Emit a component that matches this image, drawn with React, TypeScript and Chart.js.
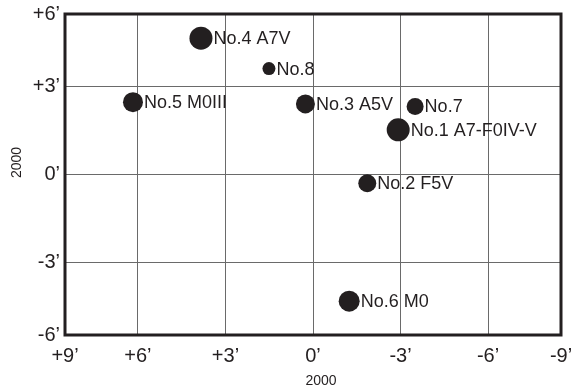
import React, { useEffect, useRef } from "react";
import { Chart, registerables } from "chart.js";

Chart.register(...registerables);

// Star labels and offsets (arc-minutes, epoch 2000)
const STAR_LABELS = [
  "No.1 A7-F0IV-V",
  "No.2 F5V",
  "No.3 A5V",
  "No.4 A7V",
  "No.5 M0III",
  "No.6 M0",
  "No.7",
  "No.8",
];
const X_OFFSETS = [-2.92, -1.86, 0.26, 3.84, 6.17, -1.24, -3.5, 1.51];
const Y_OFFSETS = [1.53, -0.3, 2.42, 4.67, 2.48, -4.34, 2.33, 3.63];
const BUBBLE_SIZES = [11.5, 9, 9.5, 11.5, 10, 10.5, 8.5, 6.5];

const X_TICK_VALUES = [8.5, 6, 3, 0, -3, -6, -8.5];
const X_TICK_LABELS = ["+9’", "+6’", "+3’", "0’", "-3’", "-6’", "-9’"];
const Y_TICK_VALUES = [5.5, 3, 0, -3, -5.5];
const Y_TICK_LABELS = ["+6’", "+3’", "0’", "-3’", "-6’"];
const X_TITLE = "2000";
const Y_TITLE = "2000";

const INK = "#231f20";
const FONT = "'Liberation Sans', Arial, sans-serif";

export default function App() {
  const ref = useRef<HTMLCanvasElement | null>(null);

  useEffect(() => {
    if (!ref.current) return;
    const data = STAR_LABELS.map((_, i) => ({
      x: X_OFFSETS[i],
      y: Y_OFFSETS[i],
      r: BUBBLE_SIZES[i],
    }));

    const decor = {
      id: "decor",
      afterDatasetsDraw(chart: any) {
        const ctx = chart.ctx;
        const meta = chart.getDatasetMeta(0);
        ctx.save();
        ctx.fillStyle = INK;
        ctx.font = `18px ${FONT}`;
        ctx.textBaseline = "middle";
        ctx.textAlign = "left";
        meta.data.forEach((el: any, i: number) => {
          const r = BUBBLE_SIZES[i];
          ctx.fillText(STAR_LABELS[i], el.x + r + 1, el.y + 1);
        });
        ctx.restore();
      },
      afterDraw(chart: any) {
        const ctx = chart.ctx;
        const a = chart.chartArea;
        ctx.save();
        ctx.strokeStyle = INK;
        ctx.lineWidth = 3;
        ctx.strokeRect(a.left, a.top, a.right - a.left, a.bottom - a.top);
        ctx.fillStyle = INK;
        ctx.font = `14px ${FONT}`;
        ctx.textAlign = "center";
        ctx.textBaseline = "middle";
        ctx.fillText(X_TITLE, (a.left + a.right) / 2 + 8, 381);
        ctx.translate(17, (a.top + a.bottom) / 2 - 12);
        ctx.rotate(-Math.PI / 2);
        ctx.fillText(Y_TITLE, 0, 0);
        ctx.restore();
      },
    };

    const chart = new Chart(ref.current, {
      type: "bubble",
      data: {
        datasets: [
          {
            data,
            backgroundColor: INK,
            borderColor: INK,
            borderWidth: 0,
            hoverRadius: 0,
          },
        ],
      },
      options: {
        responsive: false,
        animation: false,
        events: [],
        layout: { padding: { left: 0, top: 14, right: 13, bottom: 0 } },
        plugins: {
          legend: { display: false },
          tooltip: { enabled: false },
        },
        scales: {
          x: {
            type: "linear",
            reverse: true,
            min: -8.5,
            max: 8.5,
            afterBuildTicks: (s: any) => {
              s.ticks = X_TICK_VALUES.map((v) => ({ value: v }));
            },
            afterFit: (s: any) => {
              s.height = 57;
              s.paddingLeft = 0;
              s.paddingRight = 0;
            },
            ticks: {
              autoSkip: false,
              maxRotation: 0,
              padding: 9,
              color: INK,
              font: { family: FONT, size: 20 },
              callback: (v: any) => {
                const i = X_TICK_VALUES.indexOf(Number(v));
                return i >= 0 ? X_TICK_LABELS[i] : "";
              },
            },
            grid: { color: "#6a6a6a", lineWidth: 1, drawTicks: false },
            border: { display: false },
          },
          y: {
            type: "linear",
            min: -5.5,
            max: 5.5,
            afterBuildTicks: (s: any) => {
              s.ticks = Y_TICK_VALUES.map((v) => ({ value: v }));
            },
            afterFit: (s: any) => {
              s.width = 65;
              s.paddingTop = 0;
              s.paddingBottom = 0;
            },
            ticks: {
              autoSkip: false,
              padding: 5,
              color: INK,
              font: { family: FONT, size: 20 },
              callback: (v: any) => {
                const i = Y_TICK_VALUES.indexOf(Number(v));
                return i >= 0 ? Y_TICK_LABELS[i] : "";
              },
            },
            grid: { color: "#6a6a6a", lineWidth: 1, drawTicks: false },
            border: { display: false },
          },
        },
      },
      plugins: [decor],
    } as any);

    return () => chart.destroy();
  }, []);

  return (
    <div style={{ position: "absolute", left: 0, top: 0, width: 574, height: 392, background: "#fff" }}>
      <canvas ref={ref} width={574} height={392} style={{ display: "block" }} />
    </div>
  );
}
